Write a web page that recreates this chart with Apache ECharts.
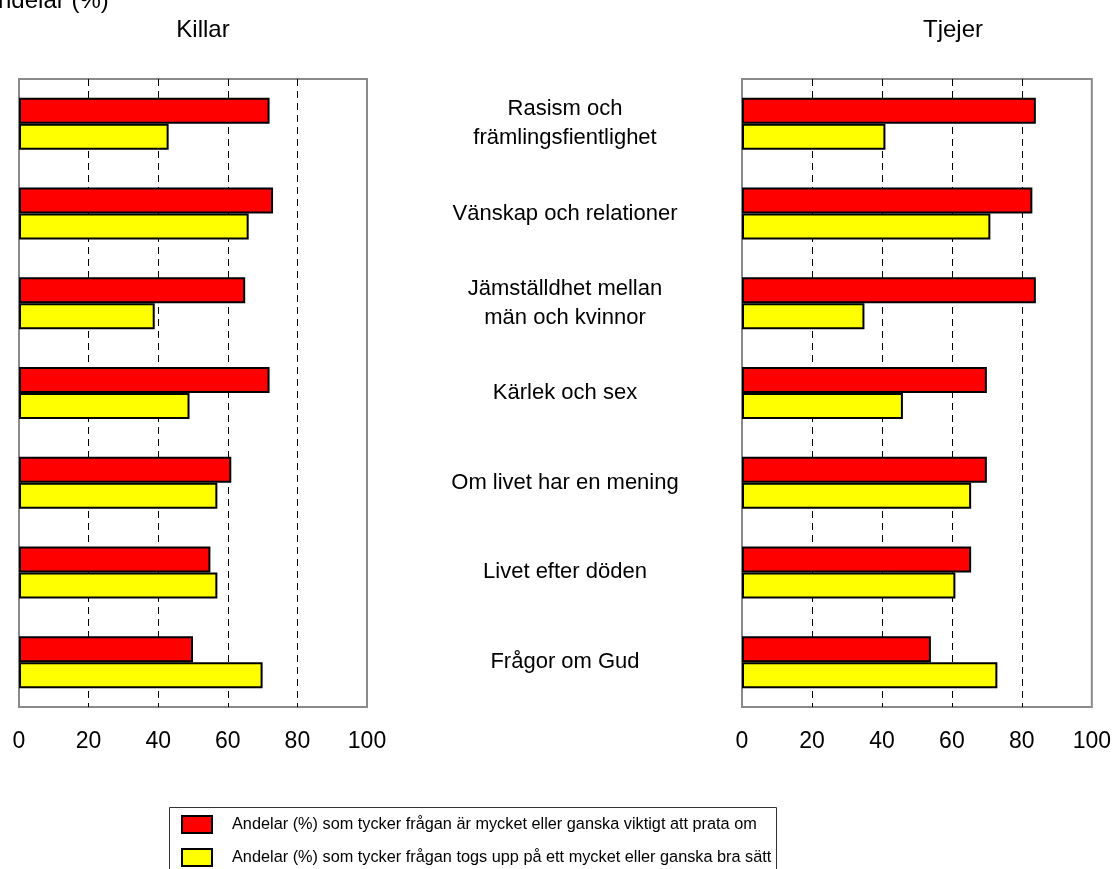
<!DOCTYPE html>
<html>
<head>
<meta charset="utf-8">
<script src="https://cdn.jsdelivr.net/npm/echarts@6/dist/echarts.min.js"></script>
<style>
html,body{margin:0;padding:0;background:#fff;}
#chart{width:1114px;height:869px;}
</style>
</head>
<body>
<div id="chart"></div>
<script>
// ---- data ----
var categories = [
  'Rasism och\nfrämlingsfientlighet',
  'Vänskap och relationer',
  'Jämställdhet mellan\nmän och kvinnor',
  'Kärlek och sex',
  'Om livet har en mening',
  'Livet efter döden',
  'Frågor om Gud'
];
var seriesNames = [
  'Andelar (%) som tycker frågan är mycket eller ganska viktigt att prata om',
  'Andelar (%) som tycker frågan togs upp på ett mycket eller ganska bra sätt'
];
var killarViktigt = [72, 73, 65, 72, 61, 55, 50];
var killarBraSatt = [43, 66, 39, 49, 57, 57, 70];
var tjejerViktigt = [84, 83, 84, 70, 70, 65.5, 54];
var tjejerBraSatt = [41, 71, 35, 46, 65.5, 61, 73];
var panelTitles = ['Killar', 'Tjejer'];
var yAxisTitle = 'Andelar (%)';
var xTicks = [0, 20, 40, 60, 80, 100];

var FONT = 'Liberation Sans, Arial, sans-serif';
var chart = echarts.init(document.getElementById('chart'), null, {renderer: 'canvas'});

function xAxisCfg(idx) {
  return {
    type: 'value', gridIndex: idx, min: xTicks[0], max: xTicks[xTicks.length - 1], interval: 20,
    axisLine: {show: false}, axisTick: {show: false},
    axisLabel: {fontSize: 23, color: '#000', fontFamily: FONT, margin: 23},
    splitLine: {show: true, showMinLine: false, showMaxLine: false,
      lineStyle: {color: '#000', width: 1, type: [7, 5]}}
  };
}
function yAxisCfg(idx, showLabels) {
  return {
    type: 'category', gridIndex: idx, data: categories, inverse: true,
    axisLine: {show: false}, axisTick: {show: false},
    axisLabel: showLabels ? {show: true, fontSize: 22, lineHeight: 29, color: '#000',
      fontFamily: FONT, align: 'center', margin: 177} : {show: false},
    splitLine: {show: false}
  };
}
function barSeries(name, data, color, idx) {
  return {
    name: name, type: 'bar', xAxisIndex: idx, yAxisIndex: idx, data: data,
    barWidth: 26, barGap: '0%',
    itemStyle: {color: color, borderColor: '#000', borderWidth: 2},
    emphasis: {disabled: true}
  };
}
function legendCfg(name, top) {
  return {
    orient: 'vertical', left: 181, top: top, padding: 0,
    data: [name], icon: 'rect',
    itemWidth: 30, itemHeight: 17,
    textStyle: {fontSize: 16.3, color: '#000', fontFamily: FONT, padding: [0, 0, 0, 15]},
    selectedMode: false
  };
}

var option = {
  animation: false,
  backgroundColor: '#fff',
  textStyle: {fontFamily: FONT},
  grid: [
    {left: 19, right: 747, top: 79, bottom: 162, show: true, borderColor: '#8a8a8a', borderWidth: 2, backgroundColor: 'transparent'},
    {left: 742, right: 22, top: 79, bottom: 162, show: true, borderColor: '#8a8a8a', borderWidth: 2, backgroundColor: 'transparent'}
  ],
  xAxis: [xAxisCfg(0), xAxisCfg(1)],
  yAxis: [yAxisCfg(0, false), yAxisCfg(1, true)],
  legend: [legendCfg(seriesNames[0], 815), legendCfg(seriesNames[1], 848)],
  graphic: [
    {type: 'rect', shape: {x: 169.5, y: 807.5, width: 607, height: 90}, style: {fill: 'none', stroke: '#333', lineWidth: 1}, silent: true},
    {type: 'text', left: -18, top: -11, style: {text: yAxisTitle, fontSize: 24, fontFamily: FONT, fill: '#000'}},
    {type: 'text', x: 203, y: 30, style: {text: panelTitles[0], fontSize: 24, fontFamily: FONT, fill: '#000', align: 'center', verticalAlign: 'middle'}},
    {type: 'text', x: 953, y: 30, style: {text: panelTitles[1], fontSize: 24, fontFamily: FONT, fill: '#000', align: 'center', verticalAlign: 'middle'}}
  ],
  series: [
    barSeries(seriesNames[0], killarViktigt, '#ff0000', 0),
    barSeries(seriesNames[1], killarBraSatt, '#ffff00', 0),
    barSeries(seriesNames[0], tjejerViktigt, '#ff0000', 1),
    barSeries(seriesNames[1], tjejerBraSatt, '#ffff00', 1)
  ]
};
chart.setOption(option);
</script>
</body>
</html>
